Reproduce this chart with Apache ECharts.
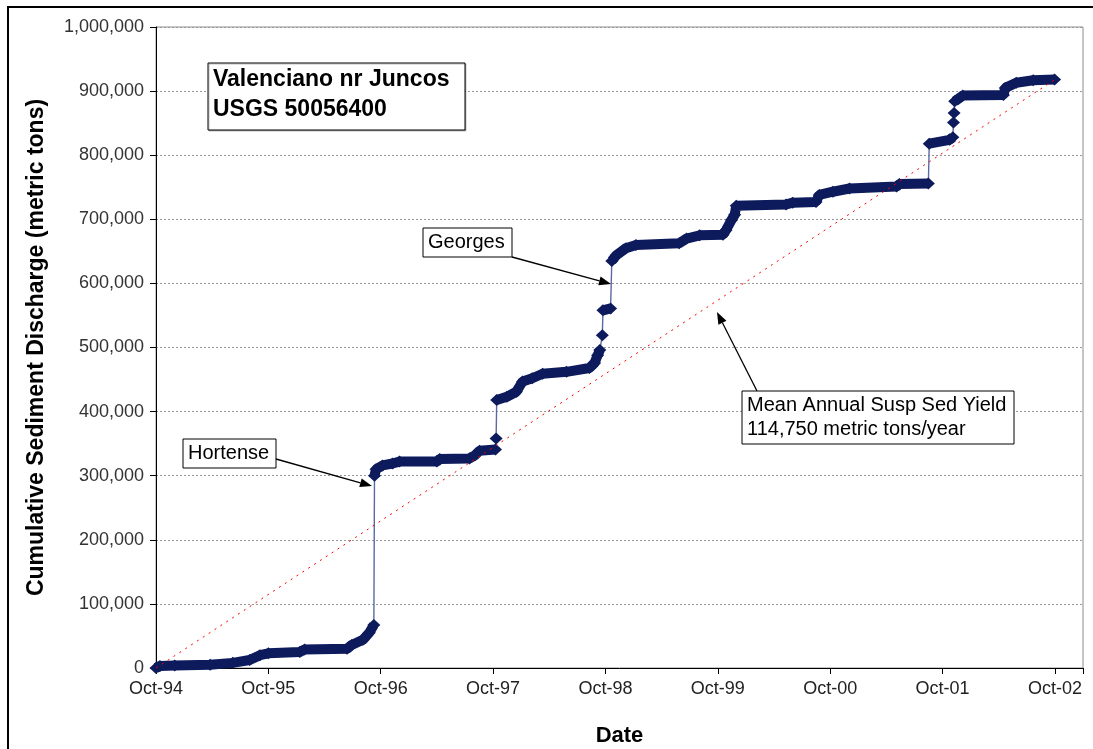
<!DOCTYPE html>
<html>
<head>
<meta charset="utf-8">
<title>Valenciano nr Juncos</title>
<script src="https://cdn.jsdelivr.net/npm/echarts@6/dist/echarts.min.js"></script>
<style>
  html, body { margin: 0; padding: 0; background: #fff; }
  #chart { width: 1093px; height: 749px; }
</style>
</head>
<body>
<div id="chart"></div>
<script>
// cumulative sediment discharge
// a null value is a storm jump: the thick band breaks there, the thin line goes on
const cumDates = [
  '1994-10-01', '1994-10-14', '1994-12-01', '1995-03-25', '1995-06-07', '1995-08-01',
  '1995-09-04', '1995-10-01', '1996-01-12', '1996-01-28', '1996-06-13', '1996-06-28',
  '1996-08-04', '1996-08-25', '1996-09-09', '1996-09-10', '1996-09-11', '1996-09-16',
  '1996-10-07', '1996-11-09', '1996-12-01', '1997-04-01', '1997-04-10', '1997-07-16',
  '1997-08-03', '1997-08-18', '1997-10-09', '1997-10-10', '1997-10-11', '1997-10-12',
  '1997-10-13', '1997-11-15', '1997-12-16', '1998-01-06', '1998-02-06', '1998-03-10',
  '1998-05-27', '1998-08-10', '1998-08-27', '1998-09-06', '1998-09-13', '1998-09-15',
  '1998-09-21', '1998-09-22', '1998-09-23', '1998-10-18', '1998-10-20', '1998-10-22',
  '1998-11-06', '1998-12-07', '1999-01-09', '1999-05-28', '1999-06-21', '1999-08-03',
  '1999-10-18', '1999-10-28', '1999-11-15', '1999-11-25', '1999-11-30', '2000-05-10',
  '2000-06-01', '2000-08-16', '2000-08-27', '2000-10-10', '2000-12-03', '2001-05-04',
  '2001-05-13', '2001-08-16', '2001-08-18', '2001-08-19', '2001-10-24', '2001-11-04',
  '2001-11-05', '2001-11-06', '2001-11-07', '2001-11-08', '2001-11-09', '2001-11-10',
  '2001-12-06', '2002-04-16', '2002-04-22', '2002-05-28', '2002-07-22', '2002-09-30'
]
const cumValues = [
  0, 3000, 4000, 5000, 8000, 12500,
  20000, 23000, 25000, 29000, 30000, 36000,
  44000, 55000, 67000, null, 300000, 310000,
  316000, 319000, 322000, 322000, 326000, 327000,
  332000, 339000, 341000, null, 358000, null,
  418000, 423000, 431000, 447000, 452000, 459000,
  462000, 468000, 476000, 488000, 496000, null,
  519000, null, 558000, 561000, null, 635000,
  644000, 655000, 660000, 662500, 670000, 675000,
  676000, 683000, 699000, 707000, 721000, 723000,
  726000, 727000, 738000, 743000, 748000, 751000,
  755000, 756000, null, 818000, 824000, 828000,
  null, 851000, null, 866000, null, 884000,
  893000, 894000, 905000, 913000, 917000, 918000
]

// mean annual suspended sediment yield, 114,750 t/yr
const meanDates = ['1994-10-01', '2002-10-01']
const meanValues = [0, 918000]

const xTickLabels = ['Oct-94', 'Oct-95', 'Oct-96', 'Oct-97', 'Oct-98', 'Oct-99', 'Oct-00', 'Oct-01', 'Oct-02']

// months elapsed since 1 Oct 1994
const toMonths = (s) => {
  const [y, m, d] = s.split('-').map(Number)
  const days = new Date(y, m, 0).getDate()
  return (y - 1994) * 12 + (m - 10) + (d - 1) / days
}

const cumData = cumDates.map((d, i) => [toMonths(d), cumValues[i]])
const meanData = meanDates.map((d, i) => [toMonths(d), meanValues[i]])

const FONT = "'Liberation Sans', Arial, sans-serif"
const NAVY = '#0d1a5c'

// a straight arrow with a filled head
const arrow = (x1, y1, x2, y2) => {
  const a = Math.atan2(y2 - y1, x2 - x1)
  const len = 12, half = 4.5
  const bx = x2 - len * Math.cos(a), by = y2 - len * Math.sin(a)
  const px = -Math.sin(a) * half, py = Math.cos(a) * half
  return [
    { type: 'line', z: 100, shape: { x1, y1, x2: bx, y2: by }, style: { stroke: '#000', lineWidth: 1.3 } },
    { type: 'polygon', z: 100, shape: { points: [[x2, y2], [bx + px, by + py], [bx - px, by - py]] }, style: { fill: '#000' } }
  ]
}

// text box like the Excel callouts
const box = (x, y, w, h, text, font, lineHeight, shadow) => [
  {
    type: 'rect', z: 100,
    shape: { x, y, width: w, height: h },
    style: {
      fill: '#fff', stroke: '#000', lineWidth: 1,
      shadowColor: shadow ? 'rgba(0,0,0,0.25)' : 'transparent', shadowOffsetX: 1, shadowOffsetY: 1
    }
  },
  {
    type: 'text', z: 101,
    style: { x: x + 5, y: y + 2, text, font, lineHeight, fill: '#000' }
  }
]

const myChart = echarts.init(document.getElementById('chart'))

const option = {
  animation: false,
  grid: {
    left: 156, right: 10, top: 27, bottom: 81,
    outerBoundsMode: 'none',
    show: true, borderColor: '#8c8c8c', borderWidth: 1
  },
  xAxis: {
    type: 'value',
    min: 0,
    max: 99,
    interval: 12,
    name: 'Date',
    nameLocation: 'middle',
    nameGap: 57,
    nameTextStyle: { fontFamily: FONT, fontSize: 22, fontWeight: 'bold', color: '#000' },
    axisLine: { lineStyle: { color: '#000', width: 1 } },
    axisTick: { length: 6, lineStyle: { color: '#000' } },
    axisLabel: {
      fontFamily: FONT, fontSize: 18, color: '#222', margin: 12,
      formatter: (v) => (v % 12 === 0 ? xTickLabels[v / 12] : '')
    },
    splitLine: { show: false }
  },
  yAxis: {
    type: 'value',
    min: 0,
    max: 1000000,
    interval: 100000,
    name: 'Cumulative Sediment Discharge (metric tons)',
    nameLocation: 'middle',
    nameRotate: 90,
    nameGap: 108,
    nameTextStyle: { fontFamily: FONT, fontSize: 23, fontWeight: 'bold', color: '#000' },
    axisLine: { show: true, lineStyle: { color: '#000', width: 1 } },
    axisTick: { show: true, length: 6, lineStyle: { color: '#000' } },
    axisLabel: {
      fontFamily: FONT, fontSize: 18, color: '#333', margin: 12,
      formatter: (v) => v.toLocaleString('en-US')
    },
    splitLine: { lineStyle: { color: '#999', type: [2, 2], width: 1 } }
  },
  series: [
    {
      // thin connecting line, also across the jumps
      type: 'line',
      data: cumData,
      connectNulls: true,
      showSymbol: false,
      lineStyle: { color: '#5a68a6', width: 1.4 },
      z: 1,
      silent: true
    },
    {
      // the thick band of daily diamonds
      type: 'line',
      data: cumData,
      connectNulls: false,
      symbol: 'diamond',
      symbolSize: [13, 12],
      showSymbol: true,
      clip: false,
      itemStyle: { color: NAVY },
      lineStyle: { color: NAVY, width: 10 },
      z: 2,
      silent: true
    },
    {
      type: 'line',
      data: meanData,
      showSymbol: false,
      lineStyle: { color: '#ff0000', width: 1, type: [2, 5] },
      z: 3,
      silent: true
    }
  ],
  graphic: [
    // outer frame of the figure
    {
      type: 'rect', z: 90,
      shape: { x: 8, y: 7, width: 1200, height: 900 },
      style: { fill: 'transparent', stroke: '#000', lineWidth: 2 }
    },
    ...box(208, 63, 257, 67, 'Valenciano nr Juncos\nUSGS 50056400', 'bold 23px ' + FONT, 30, true),
    ...box(183, 439, 93, 29, 'Hortense', '20px ' + FONT, 25, false),
    ...arrow(276, 459, 372, 486),
    ...box(423, 228, 89, 29, 'Georges', '20px ' + FONT, 25, false),
    ...arrow(512, 257, 611, 284),
    ...box(742, 391, 272, 53, 'Mean Annual Susp Sed Yield\n114,750 metric tons/year', '20px ' + FONT, 24, false),
    ...arrow(757, 391, 717, 312)
  ]
}

myChart.setOption(option)
</script>
</body>
</html>
